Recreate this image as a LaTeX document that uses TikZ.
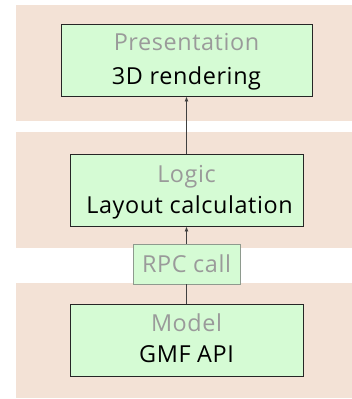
\documentclass[tikz,border=0pt]{standalone}
\usepackage{fontspec}
\setmainfont{Open Sans}[LetterSpace=2.5]
\usetikzlibrary{arrows.meta}
\definecolor{band}{HTML}{F3E2D6}
\definecolor{boxfill}{HTML}{D5FBD4}
\definecolor{greytext}{HTML}{9A9A9A}
\definecolor{rpcborder}{HTML}{8E9A8E}
\tikzset{
  bandrect/.style={fill=band, draw=none},
  layerbox/.style={draw=black!85, fill=boxfill, line width=0.9pt, inner sep=0pt},
  rpcbox/.style={draw=rpcborder, fill=boxfill, line width=0.8pt, inner sep=0pt},
  toptext/.style={anchor=base, text=greytext, font=\fontsize{23.4}{28}\selectfont, inner sep=0pt},
  bottext/.style={anchor=base, text=black, font=\fontsize{23.4}{28}\selectfont, inner sep=0pt},
  conn/.style={draw=black!75, line width=0.8pt},
  arr/.style={conn, -{Latex[length=5pt,width=4pt]}}
}
\begin{document}
\begin{tikzpicture}[x=1pt,y=-1pt]
\useasboundingbox (0,0) rectangle (352,399);
\fill[white] (0,0) rectangle (352,399);
% bands
\path[bandrect] (16,5) rectangle (352,121);
\path[bandrect] (16,132) rectangle (352,248);
\path[bandrect] (16,283) rectangle (352,398);
% boxes
\node[layerbox, minimum width=251pt, minimum height=72pt] (pres) at (186.5,60) {};
\node[layerbox, minimum width=233pt, minimum height=72pt] (logic) at (186.5,190) {};
\node[layerbox, minimum width=233pt, minimum height=72pt] (model) at (186.5,340) {};
\node[rpcbox, minimum width=107pt, minimum height=40pt] (rpc) at (186.5,264) {};
% texts
\node[toptext] (t1) at (186.5,50) {Presentation};
\node[bottext] (b1) at (186.5,84) {3D rendering};
\node[toptext] (t2) at (186.5,182) {Logic};
\node[bottext] (b2) at (189.5,213) {Layout calculation};
\node[toptext] (t3) at (186.5,331) {Model};
\node[bottext] (b3) at (186.5,362) {GMF API};
\node[toptext] (tr) at (186.5,272) {RPC call};
% connectors
\draw[arr] (logic.north) -- (pres.south);
\draw[arr] (rpc.north) -- (logic.south);
\draw[conn] (model.north) -- (rpc.south);
\end{tikzpicture}
\end{document}
